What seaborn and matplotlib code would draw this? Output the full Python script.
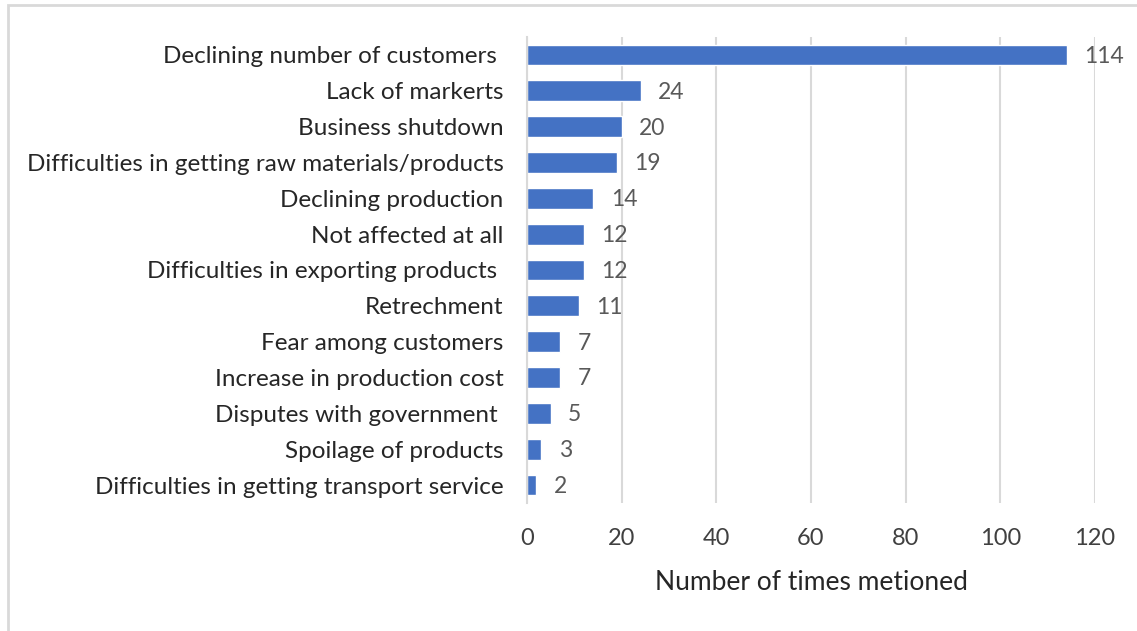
import matplotlib
matplotlib.use("Agg")
import matplotlib.pyplot as plt
import seaborn as sns
import pandas as pd
from matplotlib.patches import Rectangle

categories = [
    "Declining number of customers ",
    "Lack of markerts",
    "Business shutdown",
    "Difficulties in getting raw materials/products",
    "Declining production",
    "Not affected at all",
    "Difficulties in exporting products ",
    "Retrechment",
    "Fear among customers",
    "Increase in production cost",
    "Disputes with government ",
    "Spoilage of products",
    "Difficulties in getting transport service",
]
counts = [114, 24, 20, 19, 14, 12, 12, 11, 7, 7, 5, 3, 2]
x_ticks = [0, 20, 40, 60, 80, 100, 120]
x_label = "Number of times metioned"

df = pd.DataFrame({"category": categories, "count": counts})

sns.set_style("white")
plt.rcParams["font.family"] = ["Lato", "DejaVu Sans"]

fig = plt.figure(figsize=(11.37, 6.31), dpi=100)
ax = fig.add_axes([527 / 1137, 1 - 503 / 631, 568 / 1137, 466 / 631])

sns.barplot(data=df, x="count", y="category", color="#4472C4",
            saturation=1, width=0.58, ax=ax, orient="h")

ax.set_xlim(0, 120)
ax.set_xticks(x_ticks)
ax.set_xticklabels([str(t) for t in x_ticks], fontsize=17, color="#404040")
ax.tick_params(axis="x", length=0, pad=18)
ax.tick_params(axis="y", length=0, pad=17, labelsize=17.45, labelcolor="#262626")
ax.set_ylabel("")
ax.set_xlabel(x_label, fontsize=19, color="#262626", labelpad=15)

ax.grid(axis="x", color="#D9D9D9", linewidth=1.5)
ax.set_axisbelow(True)
for side in ["top", "right", "bottom"]:
    ax.spines[side].set_visible(False)
ax.spines["left"].set_color("#D9D9D9")
ax.spines["left"].set_linewidth(1.5)

# value labels just past each bar end
for patch, val in zip(ax.patches, counts):
    y = patch.get_y() + patch.get_height() / 2
    ax.annotate(str(val), (patch.get_width(), y), xytext=(12.5, -1),
                textcoords="offset points", va="center", ha="left",
                fontsize=16.5, color="#595959")

# thin frame around the chart area
fig.add_artist(Rectangle((8 / 1137, -0.05), 1.2, 1 - 5 / 631 + 0.05,
                         transform=fig.transFigure, fill=False,
                         edgecolor="#D9D9D9", linewidth=2))

fig.savefig("out.png", dpi=100)
